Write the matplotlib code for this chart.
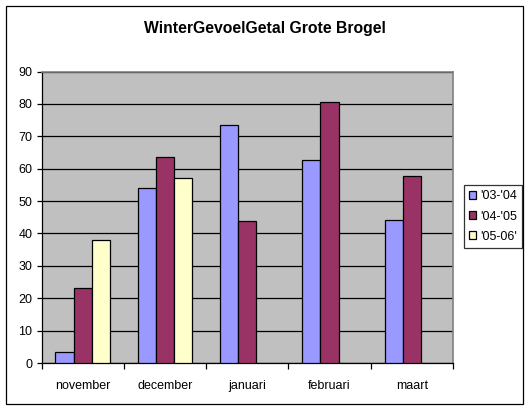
import matplotlib
matplotlib.use("Agg")
import matplotlib.pyplot as plt
from matplotlib.patches import Patch, Rectangle
import numpy as np

plt.rcParams['font.family'] = ['Liberation Sans', 'DejaVu Sans']

categories = ['november', 'december', 'januari', 'februari', 'maart']
series_names = ["'03-'04", "'04-'05", "'05-06'"]
s0304 = [3.4, 54.0, 73.5, 62.6, 44.3]
s0405 = [23.3, 63.6, 43.7, 80.6, 57.7]
s0506 = [38.1, 57.1, np.nan, np.nan, np.nan]
colors = ['#9999FF', '#993366', '#FFFFCC']
yticks = list(range(0, 91, 10))

W, H = 529, 408
fig = plt.figure(figsize=(W/100, H/100), dpi=100)
fig.patch.set_facecolor('white')

# outer frame
fig.add_artist(Rectangle((5.5/W, 1-403.5/H), (523-5.5)/W, (403.5-5.5)/H,
                         transform=fig.transFigure, fill=False,
                         edgecolor='black', linewidth=0.9))

left, right, top, bottom = 41.5, 453, 71.5, 363
ax = fig.add_axes([left/W, 1-bottom/H, (right-left)/W, (bottom-top)/H])
ax.set_facecolor('#C0C0C0')

x = np.arange(len(categories))
bw = 0.22
for i, (vals, c, name) in enumerate(zip([s0304, s0405, s0506], colors, series_names)):
    ax.bar(x + (i-1)*bw, vals, width=bw, color=c, edgecolor='black',
           linewidth=0.9, label=name, zorder=3)

ax.set_xlim(-0.5, len(categories)-0.5)
ax.set_ylim(0, 90)
ax.set_yticks(yticks)
ax.set_yticklabels([str(v) for v in yticks], fontsize=9)
ax.yaxis.grid(True, color='black', linewidth=0.9, zorder=1)
ax.set_axisbelow(True)

ax.set_xticks(x)
ax.set_xticklabels(categories, fontsize=9)
ax.set_xticks(np.arange(-0.5, len(categories), 1.0), minor=True)
ax.tick_params(axis='x', which='major', length=0, pad=12)
ax.tick_params(axis='x', which='minor', length=4, width=0.9, direction='out', color='black')
ax.tick_params(axis='y', length=3.5, width=0.9, direction='out', pad=3, color='black')

for s in ['left', 'bottom']:
    ax.spines[s].set_color('black')
    ax.spines[s].set_linewidth(0.9)
for s in ['top', 'right']:
    ax.spines[s].set_color('#808080')
    ax.spines[s].set_linewidth(1.2)

fig.text(0.5, 1-28/H, 'WinterGevoelGetal Grote Brogel', ha='center', va='center',
         fontsize=11.3, fontweight='bold')

handles = [Patch(facecolor=c, edgecolor='black', linewidth=0.9) for c in colors]
leg = fig.legend(handles, series_names, loc='upper left',
                 bbox_to_anchor=(463.5/W, 1-185.5/H), fontsize=9,
                 frameon=True, fancybox=False, handlelength=0.6, handleheight=0.6,
                 handletextpad=0.35, borderpad=0.4, labelspacing=0.65,
                 borderaxespad=0)
leg.get_frame().set_edgecolor('black')
leg.get_frame().set_linewidth(0.9)

fig.savefig('out.png', dpi=100, facecolor='white')
